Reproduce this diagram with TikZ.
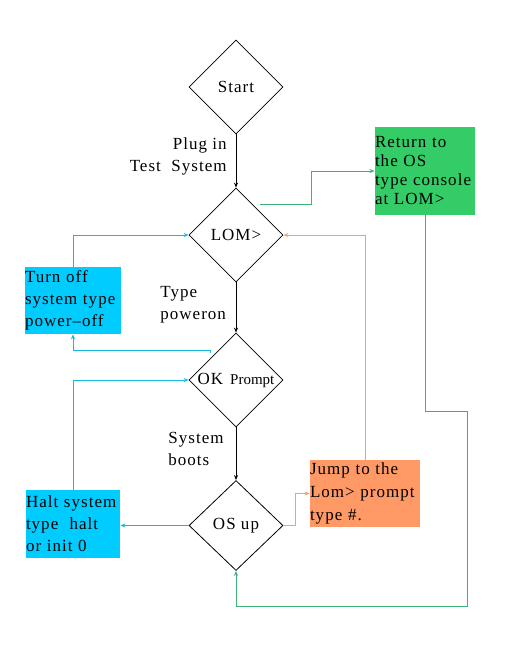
\documentclass[tikz,border=0pt]{standalone}
\usepackage{fontspec}
\setmainfont{Liberation Serif}[LetterSpace=6]
\usetikzlibrary{shapes.geometric,arrows.meta}

\definecolor{retgreen}{RGB}{51,204,102}
\definecolor{offcyan}{RGB}{0,204,255}
\definecolor{jumporange}{RGB}{255,153,102}
\definecolor{gline}{RGB}{60,180,120}
\definecolor{cline}{RGB}{20,185,225}
\definecolor{oline}{RGB}{240,160,120}

\tikzset{
  txt/.style={font=\fontsize{17}{22}\selectfont, inner sep=0pt},
  decision/.style={draw, diamond, minimum width=94pt, minimum height=94pt, inner sep=0pt, txt},
  action/.style={rectangle, inner sep=0pt, inner xsep=1pt, align=left, txt},
  tip/.style={-{Stealth[length=5pt,width=4pt]}}
}

\begin{document}
\begin{tikzpicture}[x=1pt,y=-1pt,line width=0.8pt]
  \useasboundingbox[fill=white] (0,0) rectangle (512,660);

  % decisions down the middle
  \node[decision] (start) at (236,87) {Start};
  \node[decision] (lom) at (236,235) {LOM>};
  \node[decision] (ok) at (236,380) {};
  \node[txt] (oktext) at (ok.center) {OK\hspace{7pt}{\fontsize{15}{15}\addfontfeature{LetterSpace=0}\selectfont Prompt}};
  \node[decision, minimum height=90pt] (os) at (236,525.5) {OS up};

  % coloured boxes
  \node[action, fill=retgreen, text width=100pt, minimum height=88pt, font=\fontsize{17}{19}\selectfont] (ret) at (425,171)
    {Return to\\the OS\\type console\\at LOM>};
  \node[action, fill=offcyan, text width=96pt, minimum height=67pt] (off) at (73,300.5)
    {Turn off\\system type\\power–off};
  \node[action, fill=offcyan, text width=94pt, minimum height=68pt] (halt) at (73,524)
    {Halt system\\type~ halt\\or init 0};
  \node[action, fill=jumporange, text width=110pt, minimum height=67pt, font=\fontsize{17}{23}\selectfont] (jump) at (365,493.5)
    {Jump to the\\Lom> prompt\\type \#.};

  % labels on the main line
  \node[txt, align=right, anchor=north east] (plug) at (227,137) {Plug in\\Test~ System};
  \node[txt, align=left, anchor=north west] (type) at (160,286) {Type\\poweron};
  \node[txt, align=left, anchor=north west] (boots) at (168,432) {System\\boots};

  % main line
  \draw[tip] (start) -- (lom);
  \draw[tip] (lom) -- (ok);
  \draw[tip] (ok) -- (os);

  % green returns
  \draw[gline, tip] ([yshift=7pt]lom.north east) -- ++(52,0) |- (ret.west);
  \draw[gline, tip] (ret.south) -- ++(0,196) -| ++(42,195) -| (os.south);

  % cyan loops
  \draw[cline, tip] (off.north) |- (lom.west);
  \draw[cline, tip] ([xshift=-2pt,yshift=3pt]ok.north west) -- ++(0,-3) -| (off.south);
  \draw[cline, tip] (halt.north) |- (ok.west);
  \draw[cline, tip] (os.west) -- (os.west -| halt.east);

  % orange jump
  \draw[oline, tip] (os.east) -- ++(12,0) |- (jump.west);
  \draw[oline, tip] (jump.north) |- (lom.east);
\end{tikzpicture}
\end{document}
